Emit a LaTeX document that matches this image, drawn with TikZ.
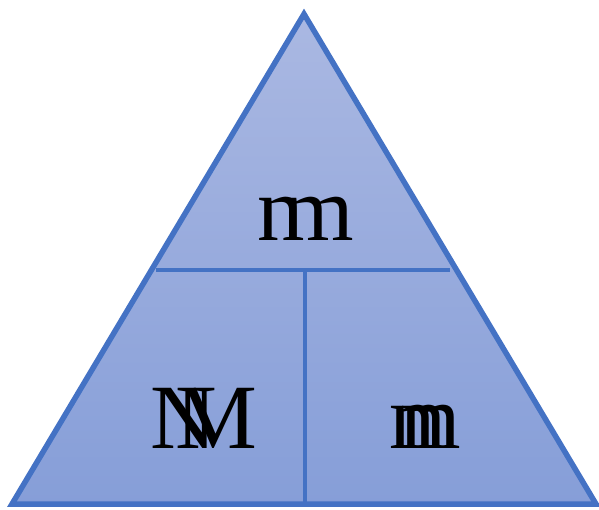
\documentclass[tikz,border=0pt]{standalone}
\usepackage{fontspec}
\setmainfont{Liberation Serif}
\usetikzlibrary{positioning, calc}
\definecolor{edgeblue}{RGB}{68,114,196}
\definecolor{filltop}{RGB}{170,184,226}
\definecolor{fillbot}{RGB}{134,158,216}
\newcommand{\stack}[3]{\rlap{#1}\kern#3#2}

\begin{document}
\begin{tikzpicture}[
    x=1pt, y=-1pt,
    tri/.style={draw=edgeblue, line width=5.5pt, line join=miter},
    divider/.style={draw=edgeblue, line width=3.5pt},
    lbl/.style={anchor=base, inner sep=0pt,
                font=\fontsize{92}{92}\selectfont}
  ]
  \useasboundingbox (0,0) rectangle (599,509);

  % Triangle corners
  \coordinate (apex) at (304,14);
  \coordinate (bl) at (12,504);
  \coordinate (br) at (596,504);

  % Fill and outline
  \shade[top color=filltop, bottom color=fillbot] (apex) -- (bl) -- (br) -- cycle;
  \draw[tri] (apex) -- (bl) -- (br) -- cycle;

  % Dividers
  \coordinate (hl) at (156,270);
  \coordinate (hr) at (450,270);
  \coordinate (vt) at (305,270);
  \coordinate (vb) at (305,504);
  \draw[divider] (hl) -- (hr);
  \draw[divider] (vt) -- (vb);

  % Labels
  \node[lbl] (top) at (306,240) {\stack{n}{m}{25pt}};
  \node[lbl] (left) at (204,448) {\stack{N}{M}{25pt}};
  \node[lbl] (right) at (425,448) {\rlap{\kern11pt n}m};
\end{tikzpicture}
\end{document}
